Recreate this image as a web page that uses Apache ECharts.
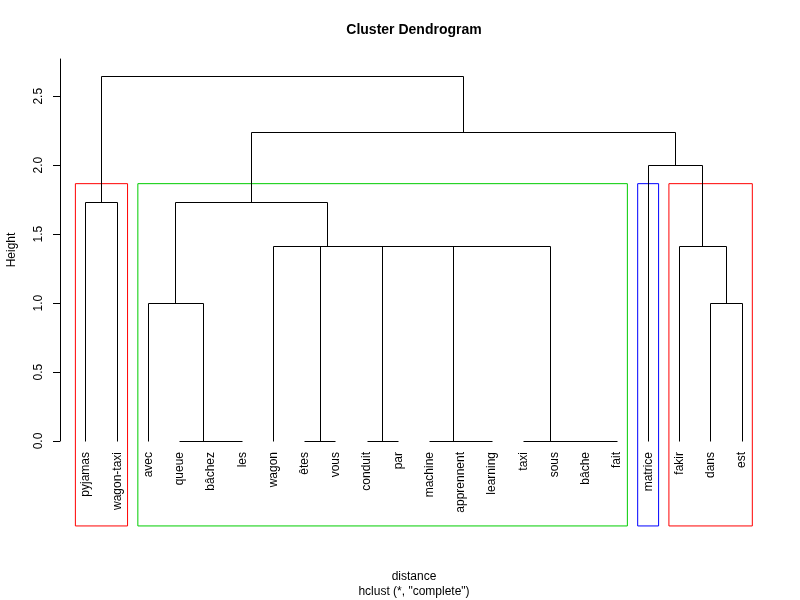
<!DOCTYPE html>
<html><head><meta charset="utf-8">
<script src="https://cdn.jsdelivr.net/npm/echarts@6/dist/echarts.min.js"></script>
<style>html,body{margin:0;padding:0;background:#fff}#c{width:800px;height:600px}</style>
</head><body><div id="c"></div>
<script>
// Leaves in dendrogram order
const leaves = ['pyjamas','wagon-taxi','avec','queue','bâchez','les','wagon','êtes','vous','conduit','par','machine','apprennent','learning','taxi','sous','bâche','fait','matrice','fakir','dans','est'];
// hclust-style merges: negative = leaf position (1-based), positive = earlier merge row (1-based)
const mergeLeft   = [-5,-4,-8,-10,-13,-12,-17,-16,-15,-3,-21, 6, 4, 3,-7,-20,-1,10,-19,18,17];
const mergeRight  = [-6, 1,-9,-11,-14,  5,-18,  7,  8, 2,-22, 9,12,13,14, 11,-2,15, 16,19,20];
const mergeHeight = [0,0,0,0,0,0,0,0,0,1,1,1.414,1.414,1.414,1.414,1.414,1.732,1.732,2,2.236,2.646];
// rect.hclust(k = 4) clusters
const clusterSizes  = [2,16,1,3];
const clusterColors = ['#FF0000','#00CD00','#0000FF','#FF0000'];
const yTicks = [0,0.5,1,1.5,2,2.5];

const FONT = '"Liberation Sans", Arial, Helvetica, sans-serif';

// build segments from merges
const segs = [];
const mx = [], mh = [];
function node(ref){ return ref < 0 ? [-ref, 0] : [mx[ref-1], mh[ref-1]]; }
for (let i = 0; i < mergeLeft.length; i++){
  const a = node(mergeLeft[i]), b = node(mergeRight[i]), H = mergeHeight[i];
  segs.push([a[0], a[1], a[0], H]);
  segs.push([a[0], H, b[0], H]);
  segs.push([b[0], H, b[0], b[1]]);
  mx.push((a[0]+b[0])/2); mh.push(H);
}
// rectangles
const k = clusterSizes.length, n = mergeHeight.length;
const rectTop = (mergeHeight[n-k+1] + mergeHeight[n-k]) / 2;
const rectBottom = -0.616;
const rectSeries = [];
let cum = 0;
clusterSizes.forEach((s, i) => {
  const x1 = cum + 0.66, x2 = cum + s + 0.33;
  rectSeries.push({
    type: 'line', silent: true, clip: false, symbol: 'none', z: 1,
    lineStyle: {color: clusterColors[i], width: 1},
    itemStyle: {color: clusterColors[i]},
    data: [[x1, rectBottom], [x1, rectTop], [x2, rectTop], [x2, rectBottom], [x1, rectBottom]]
  });
  cum += s;
});

const snap = v => Math.round(v - 0.5) + 0.5;

const chart = echarts.init(document.getElementById('c'), null, {renderer:'canvas'});
chart.setOption({
  animation: false,
  backgroundColor: '#fff',
  grid: {left: 60, top: 59, width: 708, height: 382},
  xAxis: {type: 'value', min: 0.1677, max: 22.832, show: false},
  yAxis: {
    type: 'value', min: 0, max: 2.77,
    splitLine: {show: false},
    axisLine: {show: true, lineStyle: {color: '#000', width: 1}},
    axisTick: {show: true, length: 7, lineStyle: {color: '#000'}, customValues: yTicks},
    axisLabel: {show: true, rotate: 90, color: '#000', fontSize: 12, fontFamily: FONT, margin: 15,
      customValues: yTicks, formatter: v => Number(v).toFixed(1)}
  },
  graphic: [
    {type: 'text', x: 414, y: 30, style: {text: 'Cluster Dendrogram', font: 'bold 14px ' + FONT, fill: '#000', textAlign: 'center', textVerticalAlign: 'middle'}},
    {type: 'text', x: 414, y: 577, style: {text: 'distance', font: '12px ' + FONT, fill: '#000', textAlign: 'center', textVerticalAlign: 'middle'}},
    {type: 'text', x: 414, y: 592, style: {text: 'hclust (*, "complete")', font: '12px ' + FONT, fill: '#000', textAlign: 'center', textVerticalAlign: 'middle'}},
    {type: 'text', x: 12, y: 250, rotation: Math.PI/2, style: {text: 'Height', font: '12px ' + FONT, fill: '#000', textAlign: 'center', textVerticalAlign: 'middle'}}
  ],
  series: rectSeries.concat([
    {
      type: 'custom', coordinateSystem: 'cartesian2d', silent: true, clip: false, z: 2,
      data: segs,
      renderItem: (params, api) => {
        const p1 = api.coord([api.value(0), api.value(1)]);
        const p2 = api.coord([api.value(2), api.value(3)]);
        return {type: 'line', shape: {x1: snap(p1[0]), y1: snap(p1[1]), x2: snap(p2[0]), y2: snap(p2[1])},
          style: {stroke: '#000', lineWidth: 1}};
      }
    },
    {
      type: 'custom', coordinateSystem: 'cartesian2d', silent: true, clip: false, z: 3,
      data: leaves.map((l, i) => [i + 1, 0]),
      renderItem: (params, api) => {
        const p = api.coord([api.value(0), api.value(1)]);
        return {type: 'text', x: p[0], y: p[1] + 11, rotation: Math.PI/2,
          style: {text: leaves[params.dataIndex], font: '12px ' + FONT, fill: '#000', textAlign: 'right', textVerticalAlign: 'middle'}};
      }
    }
  ])
});
</script></body></html>
